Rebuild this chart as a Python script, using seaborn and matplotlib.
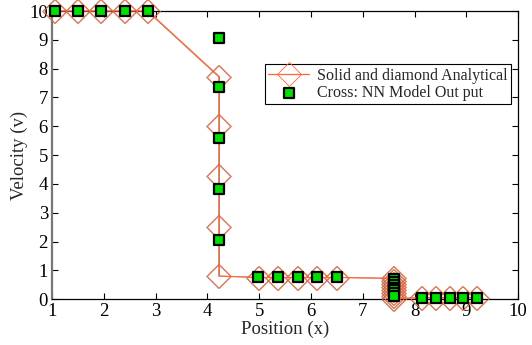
import matplotlib
matplotlib.use("Agg")
import matplotlib.pyplot as plt
import matplotlib.transforms as mtransforms
import seaborn as sns

# analytical solution (solid line + open diamonds)
ana_x = [1.05, 1.5, 1.95, 2.4, 2.85,
         4.23, 4.23, 4.23, 4.23, 4.23,
         5.0, 5.37, 5.74, 6.12, 6.51,
         7.61, 7.61, 7.61, 7.61, 7.61, 7.61, 7.61, 7.61,
         8.15, 8.41, 8.68, 8.94, 9.2]
ana_y = [10, 10, 10, 10, 10,
         7.72, 6.0, 4.27, 2.51, 0.8,
         0.75, 0.75, 0.75, 0.75, 0.75,
         0.72, 0.62, 0.52, 0.42, 0.32, 0.22, 0.12, 0.02,
         0.05, 0.05, 0.05, 0.05, 0.05]

# NN model output (green squares)
nn_x = [1.05, 1.5, 1.95, 2.4, 2.85,
        4.23, 4.23, 4.23, 4.23, 4.23,
        4.98, 5.37, 5.74, 6.12, 6.51,
        7.61, 7.61, 7.61, 7.61, 7.61, 7.61, 7.61,
        8.15, 8.41, 8.68, 8.94, 9.2]
nn_y = [10, 10, 10, 10, 10,
        9.08, 7.35, 5.58, 3.82, 2.06,
        0.78, 0.76, 0.76, 0.76, 0.76,
        0.7, 0.6, 0.5, 0.4, 0.3, 0.2, 0.12,
        0.05, 0.05, 0.05, 0.05, 0.05]

sns.set_style("ticks")
plt.rcParams["font.family"] = ["Liberation Serif", "DejaVu Serif"]

fig = plt.figure(figsize=(5.32, 3.45), dpi=100)
ax = fig.add_axes([0.098, 0.133, 0.876, 0.835])

orange = "#ff6633"
shift = mtransforms.offset_copy(ax.transData, fig=fig, x=-1.0, y=0, units="dots")

# faint dark copy slightly shifted underneath, orange on top
sns.lineplot(x=ana_x, y=ana_y, sort=False, estimator=None, ax=ax,
             color="#333333", lw=0.5, alpha=0.6, marker="D", markersize=12.5,
             markerfacecolor="none", markeredgecolor="#333333", markeredgewidth=0.5,
             transform=shift, clip_on=False, zorder=2)
sns.lineplot(x=ana_x, y=ana_y, sort=False, estimator=None, ax=ax,
             color=orange, lw=0.9, marker="D", markersize=12.5,
             markerfacecolor="none", markeredgecolor=orange, markeredgewidth=0.6,
             clip_on=False, zorder=3, label="Solid and diamond Analytical")
sns.scatterplot(x=nn_x, y=nn_y, ax=ax, marker="s", s=42, color="#00e000",
                edgecolor="black", linewidth=1.6, clip_on=False, zorder=4,
                label="Cross: NN Model Out put")

ax.set_xlim(1, 10)
ax.set_ylim(0, 10)
ax.set_xticks(range(1, 11))
ax.set_yticks(range(0, 11))
ax.tick_params(direction="in", top=True, right=True, labelsize=13.5,
               length=4, width=0.8, pad=3, colors="black")
for s in ax.spines.values():
    s.set_linewidth(0.9)
    s.set_color("black")
ax.spines["left"].set_color("#777777")
ax.spines["left"].set_linewidth(1.6)

ax.set_xlabel("Position (x)", fontsize=13.5, labelpad=0)
ax.set_ylabel("Velocity (v)", fontsize=13.5, labelpad=1)

leg = ax.legend(loc="upper right", bbox_to_anchor=(0.985, 0.815), fontsize=11.5,
                frameon=True, fancybox=False, edgecolor="black", framealpha=1,
                borderpad=0.2, handlelength=2.6, handletextpad=0.5, labelspacing=0.1,
                borderaxespad=0)
leg.get_frame().set_linewidth(0.8)

fig.savefig("out.png", dpi=100)
